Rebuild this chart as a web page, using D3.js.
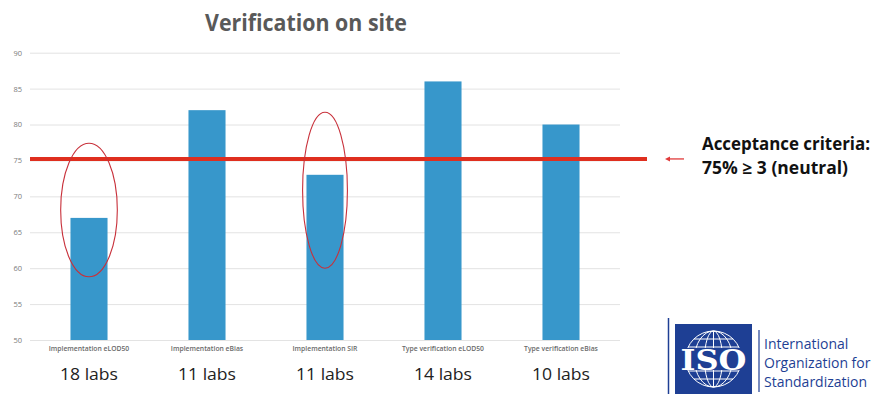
<!DOCTYPE html>
<html><head><meta charset="utf-8">
<script src="https://cdn.jsdelivr.net/npm/d3@7/dist/d3.min.js"></script>
<style>
html,body{margin:0;padding:0;background:#fff;overflow:hidden}
svg{display:block}
</style></head>
<body>
<script>
const categories = ["Implementation eLOD50","Implementation eBias","Implementation SIR","Type verification eLOD50","Type verification eBias"];
const values = [67, 82, 73, 86, 80];
const labCounts = ["18 labs","11 labs","11 labs","14 labs","10 labs"];
const yTicks = [50, 55, 60, 65, 70, 75, 80, 85, 90];
const threshold = 75;
const thresholdText = ["Acceptance criteria:", "75% \u2265 3 (neutral)"];
const highlighted = [{cat: 0, lo: 58.8, hi: 77.4}, {cat: 2, lo: 60, hi: 81.7}];
const title = "Verification on site";
const isoText = ["International", "Organization for", "Standardization"];

const W = 876, H = 394;
const svg = d3.select("body").append("svg").attr("width", W).attr("height", H);

const x = d3.scaleBand().domain(categories).range([30, 620]).paddingInner(0.686).paddingOuter(0.343);
const y = d3.scaleLinear().domain([50, 90]).range([340, 52.7]);

// title
svg.append("text").attr("x", 306).attr("y", 31).attr("text-anchor", "middle")
  .attr("font-family", "Open Sans").attr("font-weight", "bold").attr("font-size", 23)
  .attr("fill", "#595959").attr("textLength", 202).attr("lengthAdjust", "spacingAndGlyphs").text(title);

// gridlines + y axis
const yAxis = d3.axisLeft(y).tickValues(yTicks).tickSize(-590).tickPadding(8);
const gy = svg.append("g").attr("transform", "translate(30,0)").call(yAxis);
gy.select(".domain").remove();
gy.selectAll(".tick line").attr("stroke", "#e3e3e3").attr("stroke-width", 1);
gy.selectAll(".tick text").attr("fill", "#7a7a7a").attr("font-family", "Open Sans").attr("font-size", 7.5);

// bars
svg.append("g").selectAll("rect").data(values).join("rect")
  .attr("x", (d, i) => x(categories[i])).attr("width", x.bandwidth())
  .attr("y", d => y(d)).attr("height", d => y(50) - y(d))
  .attr("fill", "#3797cb");

// category labels
const xAxis = d3.axisBottom(x).tickSize(0).tickPadding(6);
const gx = svg.append("g").attr("transform", `translate(0,${y(50)})`).call(xAxis);
gx.select(".domain").remove();
gx.selectAll(".tick text").attr("fill", "#6a6a6a").attr("font-family", "Open Sans")
  .attr("font-weight", 600).attr("font-size", 6.8);

// lab counts
svg.append("g").selectAll("text").data(labCounts).join("text")
  .attr("x", (d, i) => x(categories[i]) + x.bandwidth() / 2).attr("y", 380)
  .attr("text-anchor", "middle").attr("font-family", "Open Sans").attr("font-size", 17)
  .attr("fill", "#222").attr("textLength", 58).attr("lengthAdjust", "spacingAndGlyphs").text(d => d);

// threshold line
svg.append("line").attr("x1", 30).attr("x2", 647).attr("y1", y(threshold) - 1.5).attr("y2", y(threshold) - 1.5)
  .attr("stroke", "#df2f1f").attr("stroke-width", 4);

// arrow
const ay = y(threshold) - 1.5;
svg.append("line").attr("x1", 668).attr("x2", 684).attr("y1", ay).attr("y2", ay)
  .attr("stroke", "#e03a3a").attr("stroke-width", 1.3);
svg.append("path").attr("d", `M665,${ay} L670,${ay - 2.5} L670,${ay + 2.5} Z`).attr("fill", "#e03a3a");

// threshold text
svg.append("g").selectAll("text").data(thresholdText).join("text")
  .attr("x", 702).attr("y", (d, i) => 150 + i * 24)
  .attr("font-family", "Open Sans").attr("font-weight", "bold").attr("font-size", 17)
  .attr("fill", "#111").attr("textLength", (d, i) => i === 0 ? 168 : 146)
  .attr("lengthAdjust", "spacingAndGlyphs").text(d => d);

// highlight ellipses
const rxFrac = [0.24, 0.19];
svg.append("g").selectAll("ellipse").data(highlighted).join("ellipse")
  .attr("cx", d => x(categories[d.cat]) + x.bandwidth() / 2)
  .attr("cy", d => (y(d.lo) + y(d.hi)) / 2)
  .attr("rx", (d, i) => x.step() * rxFrac[i])
  .attr("ry", d => (y(d.lo) - y(d.hi)) / 2)
  .attr("fill", "none").attr("stroke", "#c8303a").attr("stroke-width", 1.1);

// ISO logo
const logo = svg.append("g");
logo.append("line").attr("x1", 668.5).attr("x2", 668.5).attr("y1", 318).attr("y2", 394).attr("stroke", "#1e3f94").attr("stroke-width", 1.5);
logo.append("rect").attr("x", 675).attr("y", 324).attr("width", 77).attr("height", 77).attr("fill", "#1e3f94");
const gc = {x: 713.5, y: 359, r: 28};
const glob = logo.append("g").attr("stroke", "#fff").attr("fill", "none").attr("stroke-width", 1);
glob.append("circle").attr("cx", gc.x).attr("cy", gc.y).attr("r", gc.r);
[9, 19].forEach(rx => glob.append("ellipse").attr("cx", gc.x).attr("cy", gc.y).attr("rx", rx).attr("ry", gc.r));
glob.append("line").attr("x1", gc.x).attr("x2", gc.x).attr("y1", gc.y - gc.r).attr("y2", gc.y + gc.r);
[-20, -12, 12, 20].forEach(dy => {
  const hw = Math.sqrt(gc.r * gc.r - dy * dy);
  glob.append("line").attr("x1", gc.x - hw).attr("x2", gc.x + hw).attr("y1", gc.y + dy).attr("y2", gc.y + dy);
});
logo.append("rect").attr("x", 678).attr("y", 348).attr("width", 71).attr("height", 22).attr("fill", "#1e3f94");
logo.append("text").attr("x", gc.x).attr("y", 370).attr("text-anchor", "middle")
  .attr("font-family", "DejaVu Serif").attr("font-weight", "bold").attr("font-size", 28)
  .attr("fill", "#fff").attr("textLength", 66).attr("lengthAdjust", "spacingAndGlyphs").text("ISO");
logo.append("line").attr("x1", 759).attr("x2", 759).attr("y1", 330).attr("y2", 392).attr("stroke", "#1e3f94").attr("stroke-width", 1.2);
logo.append("g").selectAll("text").data(isoText).join("text")
  .attr("x", 764).attr("y", (d, i) => 349 + i * 19)
  .attr("font-family", "Open Sans").attr("font-size", 14).attr("fill", "#1e3f94")
  .text(d => d);
</script>
</body></html>
